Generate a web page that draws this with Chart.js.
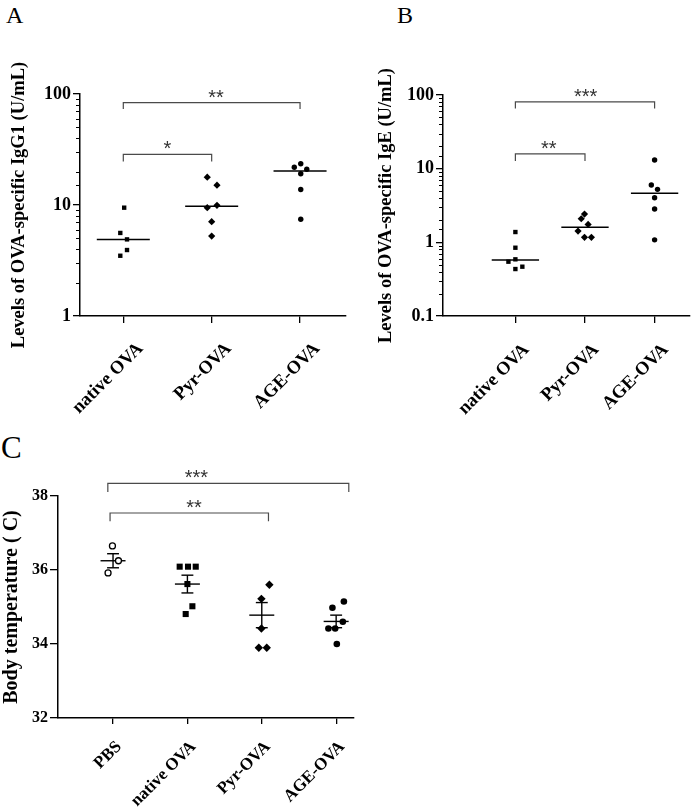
<!DOCTYPE html>
<html><head><meta charset="utf-8">
<script src="https://cdn.jsdelivr.net/npm/chart.js@4/dist/chart.umd.min.js"></script>
<style>
body{margin:0;background:#fff;width:693px;height:808px;position:relative;overflow:hidden}
.p{position:absolute}
.lbl{position:absolute;font-family:"Liberation Serif","Times New Roman",serif;color:#000;line-height:1;white-space:nowrap}
canvas{display:block}
</style></head><body>
<div class="lbl" style="left:6px;top:3px;font-size:24px">A</div>
<div class="lbl" style="left:397px;top:3px;font-size:24px">B</div>
<div class="lbl" style="left:1px;top:432px;font-size:31px">C</div>
<div class="p" style="left:0;top:0"><canvas id="cA" width="360" height="425"></canvas></div>
<div class="p" style="left:372px;top:0"><canvas id="cB" width="321" height="425"></canvas></div>
<div class="p" style="left:0;top:425px"><canvas id="cC" width="385" height="383"></canvas></div>
<script>
// ---------- data ----------
const catAB = ['native OVA', 'Pyr-OVA', 'AGE-OVA'];
const catC = ['PBS', 'native OVA', 'Pyr-OVA', 'AGE-OVA'];

// Panel A: OVA-specific IgG1 (U/mL)
const aNative = [9.46, 5.6, 4.9, 3.93, 3.49];
const aNativeJit = [0.01, -0.034, 0.042, 0.042, -0.034];
const aPyr = [17.8, 15.1, 9.46, 9.94, 7.07, 5.25];
const aPyrJit = [-0.05, 0.06, -0.05, 0.06, 0, 0];
const aAge = [21.9, 23.5, 21.0, 19.1, 13.8, 7.43];
const aAgeJit = [-0.065, 0.008, 0.076, 0.008, 0.008, 0.008];
const aMedian = [4.9, 9.73, 20.2];
const aYTicks = [1, 10, 100];
const aSigFrom = [1, 1];
const aSigTo = [2, 3];
const aSigTop = [28.6, 83.5];
const aSigLeg = [24.6, 73.3];
const aSigText = ['*', '**'];
const aSigTextX = [1.5, 2.05];

// Panel B: OVA-specific IgE (U/mL)
const bNative = [1.38, 0.845, 0.546, 0.588, 0.467, 0.434];
const bNativeJit = [0, 0, -0.1, 0, 0.1, 0];
const bPyr = [2.42, 2.09, 1.75, 1.42, 1.17, 1.17];
const bPyrJit = [-0.007, -0.054, 0.045, -0.1, -0.007, 0.092];
const bAge = [13.1, 5.99, 5.24, 4.03, 2.83, 1.08];
const bAgeJit = [0, -0.047, 0.042, 0, 0, 0];
const bMedian = [0.575, 1.6, 4.62];
const bYTicks = [0.1, 1, 10, 100];
const bSigFrom = [1, 1];
const bSigTo = [2, 3];
const bSigTop = [15.9, 80.9];
const bSigLeg = [12.7, 65.8];
const bSigText = ['**', '***'];
const bSigTextX = [1.48, 2.01];

// Panel C: body temperature
const cPbs = [36.65, 36.25, 35.92];
const cPbsJit = [-0.008, 0.073, -0.067];
const cNative = [36.09, 36.09, 36.09, 35.62, 35.02, 34.81];
const cNativeJit = [-0.104, 0.008, 0.112, 0, 0.067, -0.023];
const cPyr = [35.6, 35.22, 34.42, 33.9, 33.9];
const cPyrJit = [0.102, -0.005, -0.005, -0.04, 0.067];
const cAge = [35.15, 34.98, 34.6, 34.42, 34.42, 34.0];
const cAgeJit = [0.104, -0.05, 0.09, -0.104, -0.013, 0.009];
const cMean = [36.25, 35.62, 34.78, 34.61];
const cSem = [0.19, 0.24, 0.34, 0.17];
const cYTicks = [32, 34, 36, 38];
const cSigFrom = [0.93, 0.96];
const cSigTo = [4.17, 3.09];
const cSigTop = [38.34, 37.54];
const cSigLeg = [38.11, 37.32];
const cSigText = ['***', '**'];
const cSigTextX = [2.12, 2.09];

// ---------- helpers ----------
Chart.defaults.font.family = '"Liberation Serif","Times New Roman",serif';
Chart.defaults.color = '#000';
Chart.defaults.animation = false;

const near = (a, b) => Math.abs(a - b) <= Math.abs(b) * 1e-6;
const isMajor = (v, majors) => majors.some(m => near(v, m));

function pts(vals, jit, cat) { return vals.map((v, i) => ({x: cat + jit[i], y: v})); }
function ptDs(vals, jit, cat, style, r, open) {
  return {data: pts(vals, jit, cat), pointStyle: style, pointRadius: r, pointHoverRadius: r,
    backgroundColor: open ? '#fff' : '#000', borderColor: '#000', borderWidth: open ? 1.3 : 0,
    showLine: false, clip: false};
}
function lineDs(data, color, w) {
  return {data, showLine: true, borderColor: color, borderWidth: w, pointRadius: 0,
    pointHoverRadius: 0, fill: false, clip: false, tension: 0};
}
function bracketSets(from, to, top, leg) {
  return from.map((f, i) => lineDs([{x: f, y: leg[i]}, {x: f, y: top[i]}, {x: to[i], y: top[i]}, {x: to[i], y: leg[i]}], '#4a4a4a', 1.2));
}
function starsPlugin(xs, ys, texts) {
  return {id: 'stars', afterDraw(chart) {
    const ctx = chart.ctx, sx = chart.scales.x, sy = chart.scales.y;
    ctx.save();
    ctx.font = '20px "Liberation Sans", Arial, sans-serif';
    ctx.fillStyle = '#333'; ctx.textAlign = 'center'; ctx.textBaseline = 'alphabetic';
    texts.forEach((t, i) => ctx.fillText(t, sx.getPixelForValue(xs[i]), sy.getPixelForValue(ys[i]) + 1));
    ctx.restore();
  }};
}
function minorTickPlugin(majors) {
  return {id: 'minorTicks', afterDraw(chart) {
    const s = chart.scales.y, ctx = chart.ctx;
    ctx.save(); ctx.strokeStyle = '#000'; ctx.lineWidth = 1;
    s.ticks.forEach(t => {
      if (isMajor(t.value, majors)) return;
      const y = Math.round(s.getPixelForValue(t.value)) + 0.5;
      ctx.beginPath(); ctx.moveTo(s.right - 4, y); ctx.lineTo(s.right, y); ctx.stroke();
    });
    ctx.restore();
  }};
}
function xAxis(cats, min, max, h, fs, lo, pad, tl) {
  return {type: 'linear', min, max,
    afterBuildTicks: s => { s.ticks = cats.map((c, i) => ({value: i + 1})); },
    afterFit: s => { s.height = h; },
    ticks: {callback: v => cats[Math.round(v) - 1], autoSkip: false, minRotation: 45, maxRotation: 45,
      font: {size: fs, weight: 'bold'}, color: '#000', labelOffset: lo, padding: pad},
    grid: {drawOnChartArea: false, tickLength: tl, color: '#000', lineWidth: 1.3},
    border: {display: true, color: '#000', width: 1.5}};
}
function logY(min, max, majors, w, title, tpad) {
  return {type: 'logarithmic', min, max,
    afterFit: s => { s.width = w; },
    ticks: {autoSkip: false, padding: 2, color: '#000', font: {size: 18, weight: 'bold'},
      callback: v => { const m = majors.find(mm => near(v, mm)); return m === undefined ? '' : String(m); }},
    grid: {drawOnChartArea: false, tickLength: 7, lineWidth: 1.3,
      color: c => (c.tick && isMajor(c.tick.value, majors)) ? '#000' : 'rgba(0,0,0,0)'},
    border: {display: true, color: '#000', width: 1.5},
    title: {display: true, text: title, color: '#000', font: {size: 18.5, weight: 'bold'}, padding: {top: tpad, bottom: 0}}};
}
const baseOpts = (pad) => ({responsive: false, animation: false, events: [],
  layout: {padding: pad}, plugins: {legend: {display: false}, tooltip: {enabled: false}}});

// ---------- Panel A ----------
(function () {
  const ds = [
    ptDs(aNative, aNativeJit, 1, 'rect', 3.1),
    ptDs(aPyr, aPyrJit, 2, 'rectRot', 3.6),
    ptDs(aAge, aAgeJit, 3, 'circle', 2.7),
    ...aMedian.map((m, i) => lineDs([{x: i + 1 - 0.3, y: m}, {x: i + 1 + 0.3, y: m}], '#000', 1.5)),
    ...bracketSets(aSigFrom, aSigTo, aSigTop, aSigLeg)
  ];
  const o = baseOpts({left: 0, top: 94, right: 14, bottom: 0});
  o.scales = {x: xAxis(catAB, 0.51, 3.52, 109, 18.5, 17, 15, 7),
    y: logY(1, 100, aYTicks, 80, 'Levels of OVA-specific IgG1 (U/mL)', 8)};
  new Chart(document.getElementById('cA'), {type: 'scatter', data: {datasets: ds}, options: o,
    plugins: [starsPlugin(aSigTextX, aSigTop, aSigText), minorTickPlugin(aYTicks)]});
})();

// ---------- Panel B ----------
(function () {
  const ds = [
    ptDs(bNative, bNativeJit, 1, 'rect', 3.1),
    ptDs(bPyr, bPyrJit, 2, 'rectRot', 3.6),
    ptDs(bAge, bAgeJit, 3, 'circle', 2.7),
    ...bMedian.map((m, i) => lineDs([{x: i + 1 - 0.34, y: m}, {x: i + 1 + 0.34, y: m}], '#000', 1.5)),
    ...bracketSets(bSigFrom, bSigTo, bSigTop, bSigLeg)
  ];
  const o = baseOpts({left: 0, top: 95, right: 0, bottom: 0});
  o.scales = {x: xAxis(catAB, -0.04, 3.5, 109, 18.5, 11, 16, 7),
    y: logY(0.1, 100, bYTicks, 71, 'Levels of OVA-specific IgE (U/mL)', 3)};
  new Chart(document.getElementById('cB'), {type: 'scatter', data: {datasets: ds}, options: o,
    plugins: [starsPlugin(bSigTextX, bSigTop, bSigText), minorTickPlugin(bYTicks)]});
})();

// ---------- Panel C ----------
(function () {
  const ds = [
    ptDs(cPbs, cPbsJit, 1, 'circle', 3, true),
    ptDs(cNative, cNativeJit, 2, 'rect', 4.3),
    ptDs(cPyr, cPyrJit, 3, 'rectRot', 4.2),
    ptDs(cAge, cAgeJit, 4, 'circle', 3.3)
  ];
  cMean.forEach((m, i) => {
    const c = i + 1, s = cSem[i];
    ds.push(lineDs([{x: c - 0.168, y: m}, {x: c + 0.168, y: m}], '#000', 1.4));
    ds.push(lineDs([{x: c, y: m - s}, {x: c, y: m + s}], '#000', 1.4));
    ds.push(lineDs([{x: c - 0.08, y: m + s}, {x: c + 0.08, y: m + s}], '#000', 1.4));
    ds.push(lineDs([{x: c - 0.08, y: m - s}, {x: c + 0.08, y: m - s}], '#000', 1.4));
  });
  ds.push(...bracketSets(cSigFrom, cSigTo, cSigTop, cSigLeg));
  const o = baseOpts({left: 0, top: 71, right: 31, bottom: 0});
  o.scales = {x: xAxis(catC, 0.26, 4.24, 90, 17, 6, 13, 6),
    y: {type: 'linear', min: 32, max: 38,
      afterBuildTicks: s => { s.ticks = cYTicks.map(v => ({value: v})); },
      afterFit: s => { s.width = 58; },
      ticks: {callback: v => String(v), padding: 2, color: '#000', font: {size: 16, weight: 'bold'}},
      grid: {drawOnChartArea: false, tickLength: 8, color: '#000', lineWidth: 1.3},
      border: {display: true, color: '#000', width: 1.5},
      title: {display: true, text: 'Body temperature ( C)', color: '#000', font: {size: 20, weight: 'bold'}, padding: {top: 0, bottom: 0}}}};
  new Chart(document.getElementById('cC'), {type: 'scatter', data: {datasets: ds}, options: o,
    plugins: [starsPlugin(cSigTextX, cSigTop, cSigText)]});
})();
</script>
</body></html>
